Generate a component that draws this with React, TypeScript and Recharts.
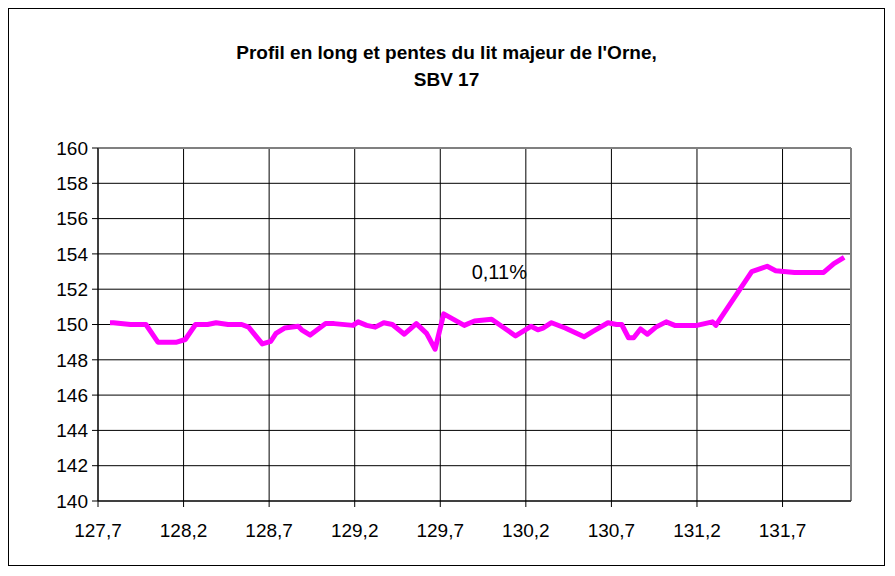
import { CartesianGrid, Line, LineChart, ReferenceDot, ReferenceLine, XAxis, YAxis } from "recharts";

const distances = [
  127.77, 127.79, 127.89, 127.98, 128.05, 128.16, 128.21, 128.27, 128.34, 128.39, 128.46, 128.54, 128.58, 128.66,
  128.71, 128.74, 128.79, 128.87, 128.89, 128.94, 129.03, 129.08, 129.19, 129.22, 129.27, 129.32, 129.37, 129.42,
  129.49, 129.56, 129.62, 129.67, 129.72, 129.84, 129.9, 130.0, 130.14, 130.23, 130.27, 130.3, 130.35, 130.43,
  130.54, 130.59, 130.68, 130.73, 130.76, 130.8, 130.83, 130.87, 130.91, 130.96, 131.02, 131.07, 131.15, 131.2,
  131.29, 131.31, 131.52, 131.61, 131.66, 131.77, 131.88, 131.94, 132.0, 132.06,
];
const altitudes = [
  150.1, 150.1, 150.0, 150.0, 149.0, 149.0, 149.15, 150.0, 150.0, 150.1, 150.0, 150.0, 149.85, 148.9,
  149.05, 149.5, 149.8, 149.9, 149.7, 149.4, 150.05, 150.05, 149.95, 150.15, 149.95, 149.85, 150.1, 150.0,
  149.45, 150.05, 149.5, 148.6, 150.6, 149.95, 150.2, 150.3, 149.35, 149.9, 149.7, 149.8, 150.1, 149.8,
  149.3, 149.6, 150.1, 150.0, 150.0, 149.25, 149.25, 149.75, 149.45, 149.85, 150.15, 149.95, 149.95, 149.95,
  150.15, 149.95, 153.0, 153.3, 153.05, 152.95, 152.95, 152.95, 153.45, 153.8,
];
const xTicks = [127.7, 128.2, 128.7, 129.2, 129.7, 130.2, 130.7, 131.2, 131.7];
const yTicks = [140, 142, 144, 146, 148, 150, 152, 154, 156, 158, 160];
const titleLines = ["Profil en long et pentes du lit majeur de l'Orne,", "SBV 17"];
const slopeLabel = { x: 130.045, y: 153, text: "0,11%" };

const data = distances.map((d, i) => ({ d, z: altitudes[i] }));
const font = "'Liberation Sans', Arial, Helvetica, sans-serif";

export default function App() {
  return (
    <div
      style={{
        position: "relative",
        width: 875,
        height: 556,
        border: "1px solid #000",
        background: "#fff",
        fontFamily: font,
      }}
    >
      <div
        style={{
          position: "absolute",
          top: 30,
          left: 0,
          width: "100%",
          textAlign: "center",
          fontWeight: "bold",
          fontSize: 19,
          lineHeight: "27px",
          color: "#000",
        }}
      >
        {titleLines.map((t) => (
          <div key={t}>{t}</div>
        ))}
      </div>
      <LineChart width={875} height={556} data={data} margin={{ top: 139, right: 33, bottom: 34, left: 29 }}>
        <CartesianGrid stroke="#000" strokeWidth={1} />
        <XAxis
          dataKey="d"
          type="number"
          domain={[127.7, 132.1]}
          ticks={xTicks}
          tickFormatter={(v: number) => v.toFixed(1).replace(".", ",")}
          tickSize={6}
          tickMargin={17}
          height={30}
          stroke="#000"
          tick={{ fill: "#000", fontSize: 19, fontFamily: font }}
          allowDataOverflow
        />
        <YAxis
          type="number"
          domain={[140, 160]}
          ticks={yTicks}
          tickSize={6}
          tickMargin={4}
          width={60}
          stroke="#000"
          tick={{ fill: "#000", fontSize: 19, fontFamily: font }}
        />
        <ReferenceLine x={132.1} stroke="#808080" strokeWidth={2} />
        <ReferenceLine y={160} stroke="#808080" strokeWidth={2} />
        <ReferenceDot
          x={slopeLabel.x}
          y={slopeLabel.y}
          r={0}
          fill="none"
          stroke="none"
          label={{ value: slopeLabel.text, position: "center", fill: "#000", fontSize: 20, fontFamily: font }}
        />
        <Line
          type="linear"
          dataKey="z"
          stroke="#ff00ff"
          strokeWidth={5}
          strokeLinejoin="round"
          dot={false}
          isAnimationActive={false}
        />
      </LineChart>
    </div>
  );
}
